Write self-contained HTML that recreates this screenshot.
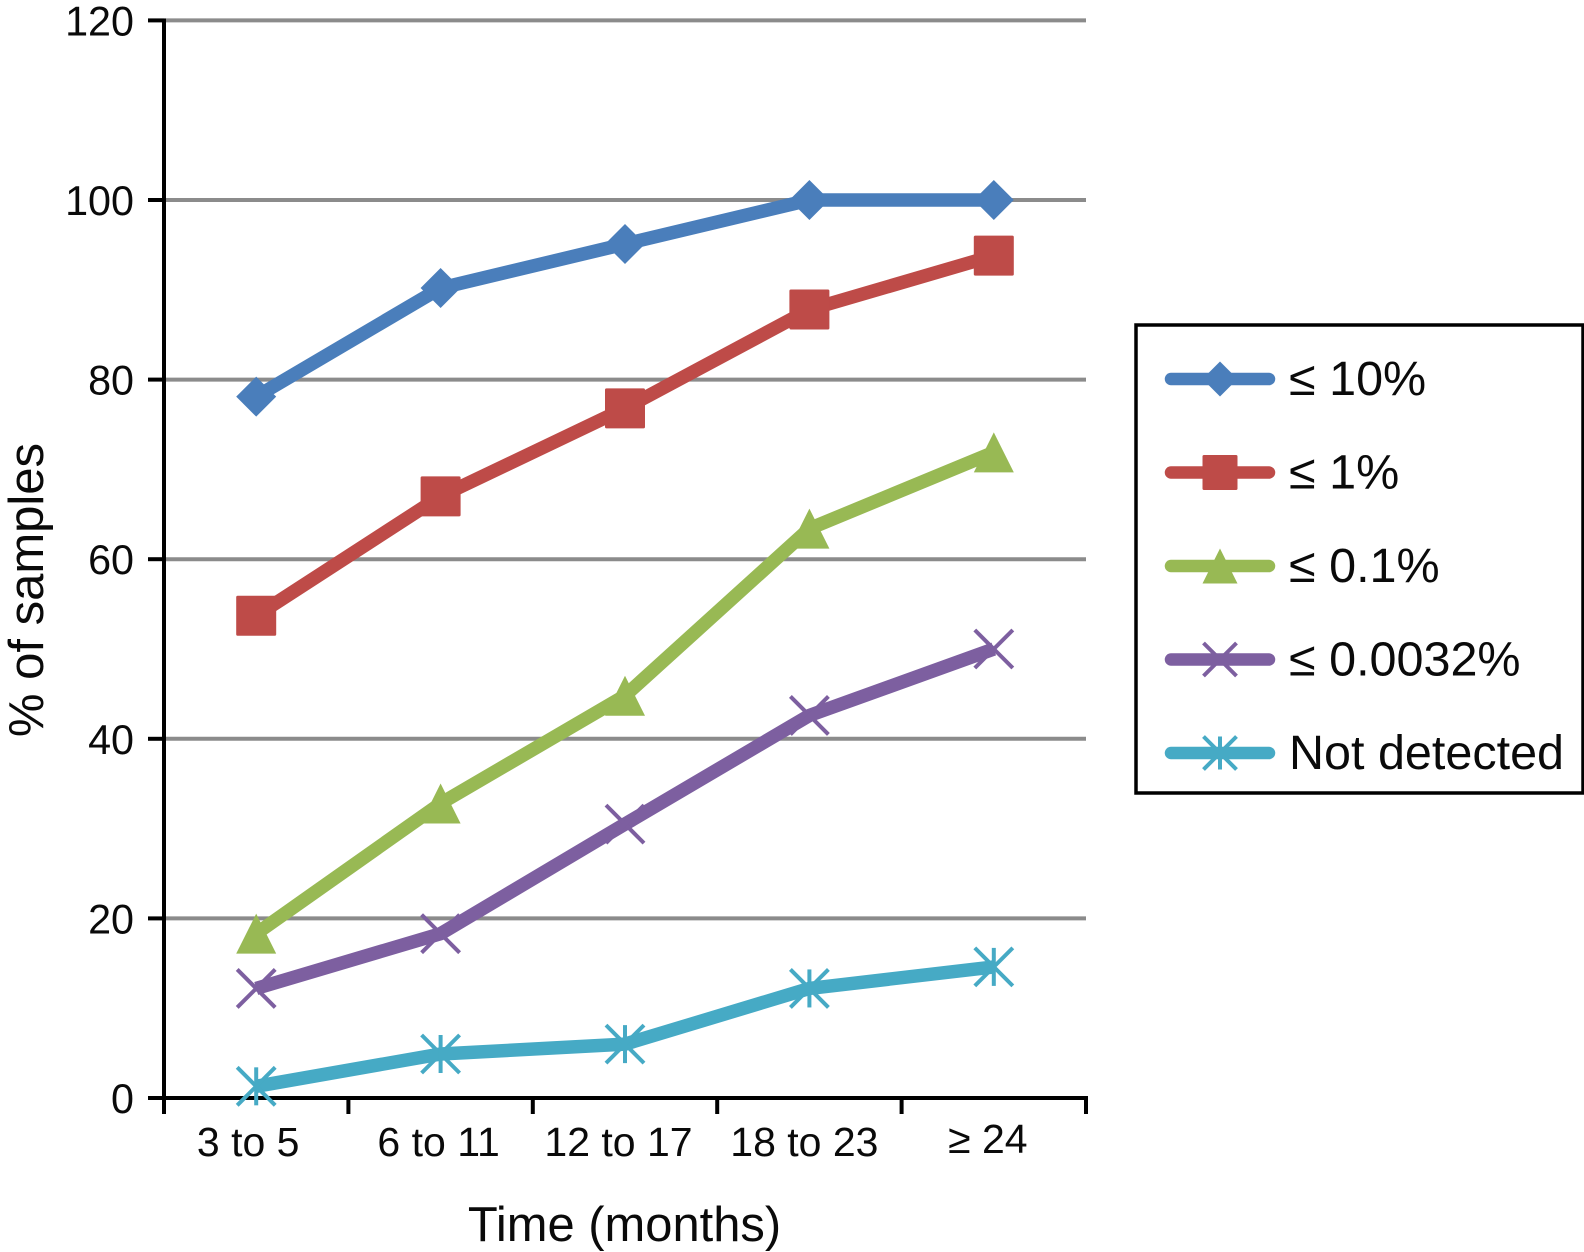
<!DOCTYPE html>
<html lang="en">
<head>
<meta charset="utf-8">
<title>Percent of samples over time</title>
<style>
html,body{margin:0;padding:0;background:#fff;}
body{width:1584px;height:1252px;overflow:hidden;}
svg{display:block;}
text{font-family:"Liberation Sans",Arial,sans-serif;fill:#0a0a0a;}
</style>
</head>
<body>
<svg id="chart" xmlns="http://www.w3.org/2000/svg" width="1584" height="1252" viewBox="0 0 1584 1252"></svg>
<script>
const categories = ["3 to 5", "6 to 11", "12 to 17", "18 to 23", "\u2265 24"];
const yTicks = [0, 20, 40, 60, 80, 100, 120];
const seriesNames = ["\u2264 10%", "\u2264 1%", "\u2264 0.1%", "\u2264 0.0032%", "Not detected"];
const valuesTen = [78.1, 90.2, 95.1, 100, 100];
const valuesOne = [53.7, 67, 76.8, 87.8, 93.8];
const valuesPointOne = [18.3, 32.8, 44.8, 63.4, 71.9];
const valuesTrace = [12.2, 18.3, 30.5, 42.6, 50];
const valuesNotDetected = [1.3, 4.9, 6, 12.2, 14.6];

const svg = document.getElementById('chart');
const NS = 'http://www.w3.org/2000/svg';
const plotLeft = 164, plotRight = 1086, y0 = 1098, unit = 8.98;
const catStep = (plotRight - plotLeft) / categories.length;
function xPos(i) { return plotLeft + catStep * (i + 0.5); }
function yPos(v) { return y0 - v * unit; }

function make(tag, attrs, parent) {
  const el = document.createElementNS(NS, tag);
  for (const k in attrs) el.setAttribute(k, attrs[k]);
  (parent || svg).appendChild(el);
  return el;
}

function drawMarker(group, kind, x, y, r, color) {
  if (kind === 'diamond') {
    make('polygon', {points: [x, y - r, x + r, y, x, y + r, x - r, y].join(' '), fill: color}, group);
  } else if (kind === 'square') {
    make('rect', {x: x - r, y: y - r, width: 2 * r, height: 2 * r, rx: 1.5, fill: color}, group);
  } else if (kind === 'triangle') {
    make('polygon', {points: [x, y - r, x + r, y + r, x - r, y + r].join(' '), fill: color}, group);
  } else {
    const d = r - 1;
    make('line', {x1: x - d, y1: y - d, x2: x + d, y2: y + d, stroke: color, 'stroke-width': 4}, group);
    make('line', {x1: x - d, y1: y + d, x2: x + d, y2: y - d, stroke: color, 'stroke-width': 4}, group);
    if (kind === 'star') {
      make('line', {x1: x, y1: y - d, x2: x, y2: y + d, stroke: color, 'stroke-width': 4}, group);
    }
  }
}

/* gridlines */
yTicks.forEach(function (t) {
  if (t === 0) return;
  const g = make('line', {x1: plotLeft, x2: plotRight, y1: yPos(t), y2: yPos(t), stroke: '#8b8b8b', 'stroke-width': 4});
  
  
});

/* y axis ticks and labels */
yTicks.forEach(function (t) {
  const tick = make('line', {x1: 148, x2: plotLeft, y1: yPos(t), y2: yPos(t), stroke: '#000', 'stroke-width': 4});
  
  
  const label = make('text', {x: 134, y: yPos(t) + 15, 'text-anchor': 'end', 'font-size': 41.3});
  label.textContent = String(t);
  
  
});

/* x axis ticks */
for (let i = 0; i <= categories.length; i++) {
  const x = plotLeft + catStep * i;
  const tick = make('line', {x1: x, x2: x, y1: y0, y2: 1114, stroke: '#000', 'stroke-width': 4});
  
  
}

/* x category labels (the originals sit slightly left of the point centres) */
const labelShift = [-8, -2, -6.5, -5, -6];
const labelRise = [0, 0, 0, 0, 3];
categories.forEach(function (c, i) {
  const label = make('text', {x: xPos(i) + labelShift[i], y: 1156 - labelRise[i], 'text-anchor': 'middle', 'font-size': 41});
  label.textContent = c;
  
  
});

/* axes */
const yAxis = make('line', {x1: plotLeft, x2: plotLeft, y1: 18.5, y2: 1114, stroke: '#000', 'stroke-width': 4});


const xAxis = make('line', {x1: plotLeft, x2: plotRight + 2, y1: y0, y2: y0, stroke: '#000', 'stroke-width': 4});



/* axis titles */
const xTitle = make('text', {x: 624.5, y: 1241, 'text-anchor': 'middle', 'font-size': 48.9});
xTitle.textContent = 'Time (months)';


const yTitle = make('text', {x: 0, y: 0, 'text-anchor': 'middle', 'font-size': 49, transform: 'translate(43 590) rotate(-90)'});
yTitle.textContent = '% of samples';



/* series */
const seriesValues = [valuesTen, valuesOne, valuesPointOne, valuesTrace, valuesNotDetected];
const seriesColors = ['#4a7ebb', '#be4b48', '#98b954', '#7d5fa0', '#46aac5'];
const seriesKinds = ['diamond', 'square', 'triangle', 'cross', 'star'];
const seriesIds = ['ten-percent', 'one-percent', 'point-one-percent', 'point-zero-zero-three-two-percent', 'not-detected'];

seriesValues.forEach(function (vals, s) {
  const group = make('g', {});
  
  
  const pts = vals.map(function (v, i) { return xPos(i) + ',' + yPos(v); }).join(' ');
  const line = make('polyline', {points: pts, fill: 'none', stroke: seriesColors[s], 'stroke-width': 13.5, 'stroke-linejoin': 'round'}, group);
  
  
  vals.forEach(function (v, i) {
    const mark = make('g', {}, group);
    
    
    drawMarker(mark, seriesKinds[s], xPos(i), yPos(v), 20, seriesColors[s]);
  });
});

/* legend */
const legend = make('g', {});


const legendBox = make('rect', {x: 1136, y: 325, width: 447, height: 468, fill: '#fff', stroke: '#000', 'stroke-width': 3.5}, legend);


seriesNames.forEach(function (name, s) {
  const cy = 379 + s * 93.5;
  const entry = make('g', {}, legend);
  
  
  make('line', {x1: 1171, x2: 1269, y1: cy, y2: cy, stroke: seriesColors[s], 'stroke-width': 12.5, 'stroke-linecap': 'round'}, entry);
  drawMarker(entry, seriesKinds[s], 1220, cy, 17.5, seriesColors[s]);
  const label = make('text', {x: 1289, y: cy + 16, 'font-size': 48.5}, entry);
  label.textContent = name;
  
  
});
</script>
</body>
</html>
